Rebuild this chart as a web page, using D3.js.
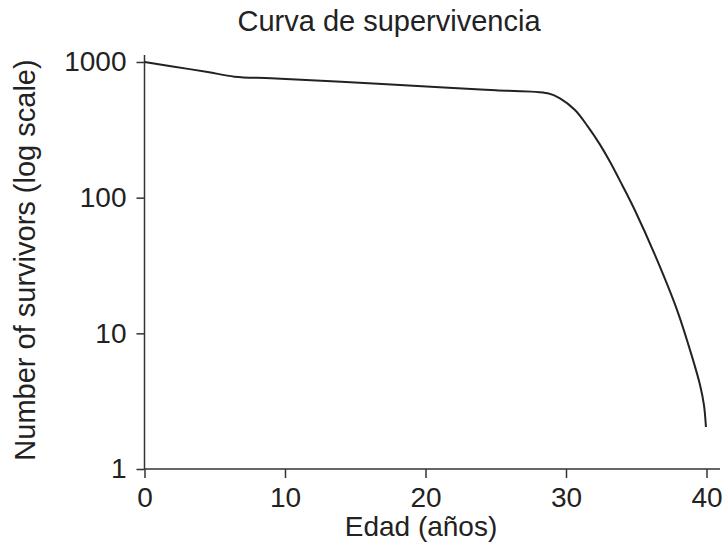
<!DOCTYPE html>
<html>
<head>
<meta charset="utf-8">
<script src="https://cdn.jsdelivr.net/npm/d3@7"></script>
<style>
  body { margin: 0; background: #fff; }
  text { font-family: "Liberation Sans", Arial, sans-serif; fill: #222; }
</style>
</head>
<body>
<svg width="728" height="554"></svg>
<script>
const svg = d3.select("svg");

// datos
const ages      = [0,    2,   4.5, 6.4, 9,   14,  21,  25,  28.7, 29.57, 30.64, 31.56, 32.42, 33.13, 33.98, 34.91, 36.48, 37.9, 39.04, 39.54, 39.82, 39.96];
const survivors = [1000, 927, 844, 780, 758, 716, 651, 618, 588,  540,   443,   334,   246,   184,   125,   80.4,  34.8,  14.9, 6.37,  4.16,  2.96,  2.04];
const xTicks = [0, 10, 20, 30, 40];
const yTicks = [1, 10, 100, 1000];

const data = ages.map((a, i) => ({ age: a, n: survivors[i] }));

const x = d3.scaleLinear().domain([0, 40]).range([144.5, 706.5]);
const y = d3.scaleLog().domain([1, 1000]).range([469, 62]);

const axisColor = "#333";

// eje x
const gx = svg.append("g")
    .attr("transform", "translate(0,469)")
    .call(d3.axisBottom(x).tickValues(xTicks).tickSize(9).tickFormat(d3.format("d")));
gx.select(".domain").remove();
gx.selectAll(".tick line").attr("stroke", axisColor).attr("stroke-width", 1.5);
gx.selectAll(".tick text").attr("y", 18).attr("dy", "0.71em")
    .style("font-size", "28px").style("fill", "#222");

// eje y
const gy = svg.append("g")
    .attr("transform", "translate(144.5,0)")
    .call(d3.axisLeft(y).tickValues(yTicks).tickSize(8).tickFormat(d3.format("d")));
gy.select(".domain").remove();
gy.selectAll(".tick line").attr("stroke", axisColor).attr("stroke-width", 1.5);
gy.selectAll(".tick text").attr("x", -18)
    .style("font-size", "28px").style("fill", "#222");

// líneas de los ejes
svg.append("line")
    .attr("x1", 144.5).attr("x2", 720).attr("y1", 469).attr("y2", 469)
    .attr("stroke", axisColor).attr("stroke-width", 1.5);
svg.append("line")
    .attr("x1", 144.5).attr("x2", 144.5).attr("y1", 55).attr("y2", 469)
    .attr("stroke", axisColor).attr("stroke-width", 1.5);

// curva
const line = d3.line()
    .x(d => x(d.age))
    .y(d => y(d.n))
    .curve(d3.curveCatmullRom.alpha(0.5));

svg.append("path")
    .datum(data)
    .attr("fill", "none")
    .attr("stroke", "#222")
    .attr("stroke-width", 2)
    .attr("d", line);

// textos
svg.append("text")
    .attr("x", 389).attr("y", 31)
    .attr("text-anchor", "middle")
    .style("font-size", "29px")
    .text("Curva de supervivencia");

svg.append("text")
    .attr("x", 421).attr("y", 536)
    .attr("text-anchor", "middle")
    .style("font-size", "28px")
    .text("Edad (años)");

svg.append("text")
    .attr("transform", "translate(35,260) rotate(-90)")
    .attr("text-anchor", "middle")
    .style("font-size", "29px")
    .text("Number of survivors (log scale)");
</script>
</body>
</html>
